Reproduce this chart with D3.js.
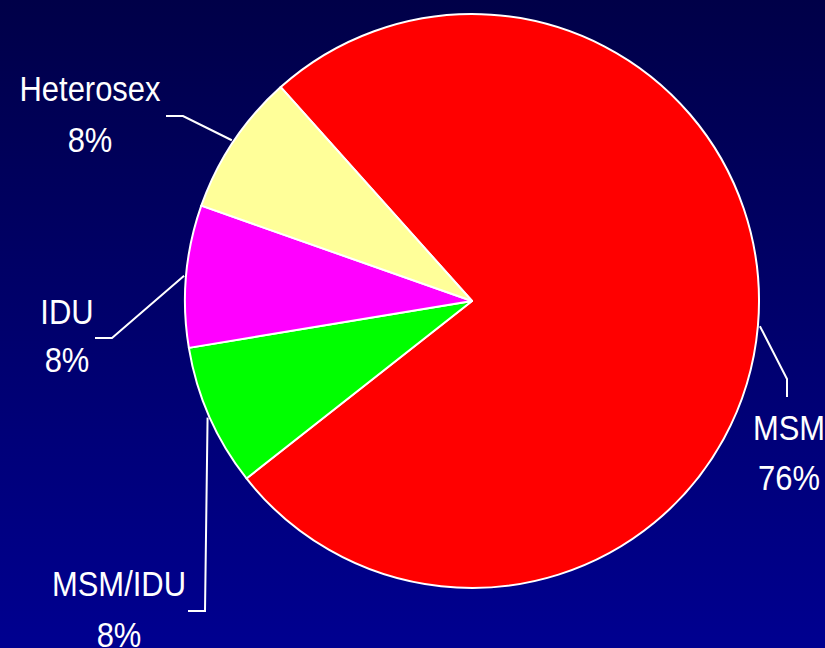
<head>
  <script src="https://d3js.org/d3.v7.min.js"></script>
</head>
<style>
body{ margin:0; }
.lbl{
    font-family: "Liberation Sans", Arial, sans-serif;
    font-size: 36px;
    fill: #ffffff;
  }
</style>
<body>
  <svg id="svg_pie"/>
</body>
<script>
  var w = 825;
  var h = 648;

  // chart values
  var groups = ["MSM", "MSM/IDU", "IDU", "Heterosex"];
  var percents = [76, 8, 8, 8];
  var colors = ["#ff0000", "#00ff00", "#ff00ff", "#ffff99"];

  // where each label sits: elbow of the leader, end of the leader, text centre x, baselines
  var labelLayout = [
    {elbow: [787, 379], end: [787, 397], tx: 789, y1: 440, y2: 490},
    {elbow: [205, 611], end: [188, 611], tx: 119, y1: 596, y2: 647},
    {elbow: [112, 338], end: [95, 338],  tx: 67,  y1: 324, y2: 372},
    {elbow: [183, 116], end: [166, 116], tx: 90,  y1: 101, y2: 152}
  ];

  var cx = 472, cy = 301, radius = 287;
  var startDeg = -41.8;
  var squeeze = 0.86; // the labels use a condensed face

  var svg = d3.select("svg#svg_pie")
      .attr("width", w)
      .attr("height", h);

  var defs = svg.append("defs");
  var grad = defs.append("linearGradient")
      .attr("id", "bg")
      .attr("x1", 0).attr("y1", 0).attr("x2", 0).attr("y2", 1);
  grad.append("stop").attr("offset", "0%").attr("stop-color", "#000048");
  grad.append("stop").attr("offset", "100%").attr("stop-color", "#000090");

  svg.append("rect")
      .attr("width", w)
      .attr("height", h)
      .attr("fill", "url(#bg)");

  var data_pie = groups.map(function(g, i){
    return {name: g, value: percents[i], color: colors[i], layout: labelLayout[i]};
  });

  var pie = d3.pie()
      .sort(null)
      .value(function(d){ return d.value; })
      .startAngle(startDeg * Math.PI / 180)
      .endAngle((startDeg + 360) * Math.PI / 180);

  var arc = d3.arc()
      .innerRadius(0)
      .outerRadius(radius);

  var g = svg.append("g")
      .attr("transform", "translate(" + cx + "," + cy + ")");

  var arcs = pie(data_pie);

  g.selectAll("path")
      .data(arcs)
      .enter().append("path")
      .attr("d", arc)
      .attr("fill", function(d){ return d.data.color; })
      .attr("stroke", "#ffffff")
      .attr("stroke-width", 2)
      .attr("stroke-linejoin", "round");

  // leader lines start at the rim, at the middle of each slice
  svg.selectAll("polyline.leader")
      .data(arcs)
      .enter().append("polyline")
      .attr("class", "leader")
      .attr("fill", "none")
      .attr("stroke", "#ffffff")
      .attr("stroke-width", 2)
      .attr("points", function(d){
        var mid = (d.startAngle + d.endAngle) / 2;
        var r = radius + 2;
        var p0 = [cx + r * Math.sin(mid), cy - r * Math.cos(mid)];
        var L = d.data.layout;
        return [p0, L.elbow, L.end].map(function(p){ return p.join(","); }).join(" ");
      });

  var labels = svg.selectAll("g.lbl")
      .data(arcs)
      .enter().append("g")
      .attr("transform", function(d){
        return "translate(" + d.data.layout.tx + ",0) scale(" + squeeze + ",1)";
      });

  labels.append("text")
      .attr("class", "lbl")
      .attr("text-anchor", "middle")
      .attr("y", function(d){ return d.data.layout.y1; })
      .text(function(d){ return d.data.name; });

  labels.append("text")
      .attr("class", "lbl")
      .attr("text-anchor", "middle")
      .attr("y", function(d){ return d.data.layout.y2; })
      .text(function(d){ return d.data.value + "%"; });
</script>
